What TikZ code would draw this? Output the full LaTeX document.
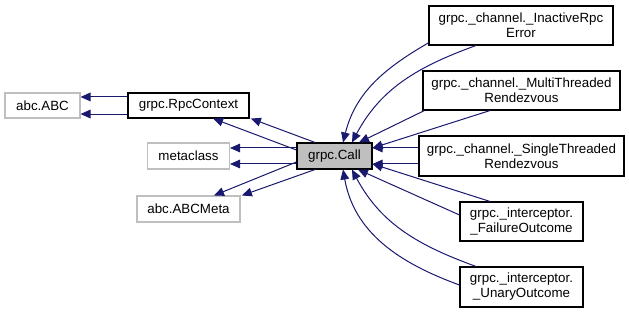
\documentclass[tikz,border=0pt]{standalone}
\usepackage{fontspec}
\setmainfont{Liberation Sans}
\usetikzlibrary{arrows.meta}
\definecolor{edgeblue}{HTML}{191970}
\definecolor{lightframe}{HTML}{BFBFBF}
\definecolor{callfill}{HTML}{BFBFBF}
\begin{document}
\begin{tikzpicture}[x=0.75pt,y=-0.75pt,
  box/.style={draw=black,line width=0.8pt,fill=white,inner sep=0pt,
    align=center,font=\fontsize{10}{11.25}\selectfont},
  extbox/.style={box,draw=lightframe},
  mainbox/.style={box,fill=callfill},
  link/.style={draw=edgeblue,line width=0.75pt,
    -{Triangle[length=7.5pt,width=6.5pt]}}]
\useasboundingbox (0,0) rectangle (629,313);

% base classes on the left
\node[extbox,minimum width=75*0.75pt,minimum height=25*0.75pt] (abc) at (42.5,105.5) {abc.ABC};
\node[box,minimum width=121*0.75pt,minimum height=25*0.75pt] (rpc) at (188.5,105.5) {grpc.RpcContext};
\node[extbox,minimum width=82*0.75pt,minimum height=26*0.75pt] (meta) at (188.5,156) {metaclass};
\node[extbox,minimum width=103*0.75pt,minimum height=26*0.75pt] (abcmeta) at (188.5,209) {abc.ABCMeta};

% the class itself
\node[mainbox,minimum width=75*0.75pt,minimum height=26*0.75pt] (call) at (334.5,156) {grpc.Call};

% derived classes on the right
\node[box,minimum width=184*0.75pt,minimum height=39*0.75pt] (inactive) at (521,25.5) {grpc.\_channel.\_InactiveRpc\\Error};
\node[box,minimum width=197*0.75pt,minimum height=39*0.75pt] (multi) at (521.5,90.5) {grpc.\_channel.\_MultiThreaded\\Rendezvous};
\node[box,minimum width=205*0.75pt,minimum height=40*0.75pt] (single) at (521.5,156) {grpc.\_channel.\_SingleThreaded\\Rendezvous};
\node[box,minimum width=123*0.75pt,minimum height=39*0.75pt] (failure) at (521.5,221.5) {grpc.\_interceptor.\\\_FailureOutcome};
\node[box,minimum width=123*0.75pt,minimum height=40*0.75pt] (unary) at (521.5,287) {grpc.\_interceptor.\\\_UnaryOutcome};

% RpcContext -> abc.ABC
\draw[link] ([yshift=6.4pt]rpc.west) -- ([yshift=6.4pt]abc.east);
\draw[link] ([yshift=-6.4pt]rpc.west) -- ([yshift=-6.4pt]abc.east);

% Call -> RpcContext
\draw[link] ([yshift=4.5pt]call.west) -- ([xshift=18.4pt]rpc.south);
\draw[link] ([xshift=-14.6pt]call.north) -- ([xshift=1pt]rpc.south east);

% Call -> metaclass
\draw[link] ([yshift=6pt]call.west) -- ([yshift=6pt]meta.east);
\draw[link] ([yshift=-6pt]call.west) -- ([yshift=-6pt]meta.east);

% Call -> abc.ABCMeta
\draw[link] ([yshift=-4.5pt]call.west) -- ([xshift=19.1pt]abcmeta.north);
\draw[link] ([xshift=-14.6pt]call.south) -- ([xshift=1pt]abcmeta.north east);

% InactiveRpcError -> Call
\draw[link] ([yshift=2pt]inactive.south west) to[out=210,in=76] ([xshift=6.4pt]call.north);
\draw[link] ([xshift=-33.8pt]inactive.south) to[out=200,in=62] ([xshift=13.1pt]call.north);

% MultiThreadedRendezvous -> Call
\draw[link] ([xshift=1.5pt]multi.south west) -- ([xshift=18.4pt]call.north);
\draw[link] ([xshift=-23.6pt]multi.south) -- ([yshift=6pt]call.east);

% SingleThreadedRendezvous -> Call
\draw[link] ([yshift=6pt]single.west) -- ([yshift=6pt]call.east);
\draw[link] ([yshift=-6pt]single.west) -- ([yshift=-6pt]call.east);

% FailureOutcome -> Call
\draw[link] ([xshift=-23.6pt]failure.north) -- ([yshift=-6pt]call.east);
\draw[link] ([yshift=4.9pt]failure.west) -- ([xshift=17.6pt]call.south);

% UnaryOutcome -> Call
\draw[link] ([xshift=-34.1pt]unary.north) to[out=160,in=-62] ([xshift=13.1pt]call.south);
\draw[link] ([yshift=1.5pt]unary.west) to[out=160,in=-80] ([xshift=6.4pt]call.south);
\end{tikzpicture}
\end{document}
